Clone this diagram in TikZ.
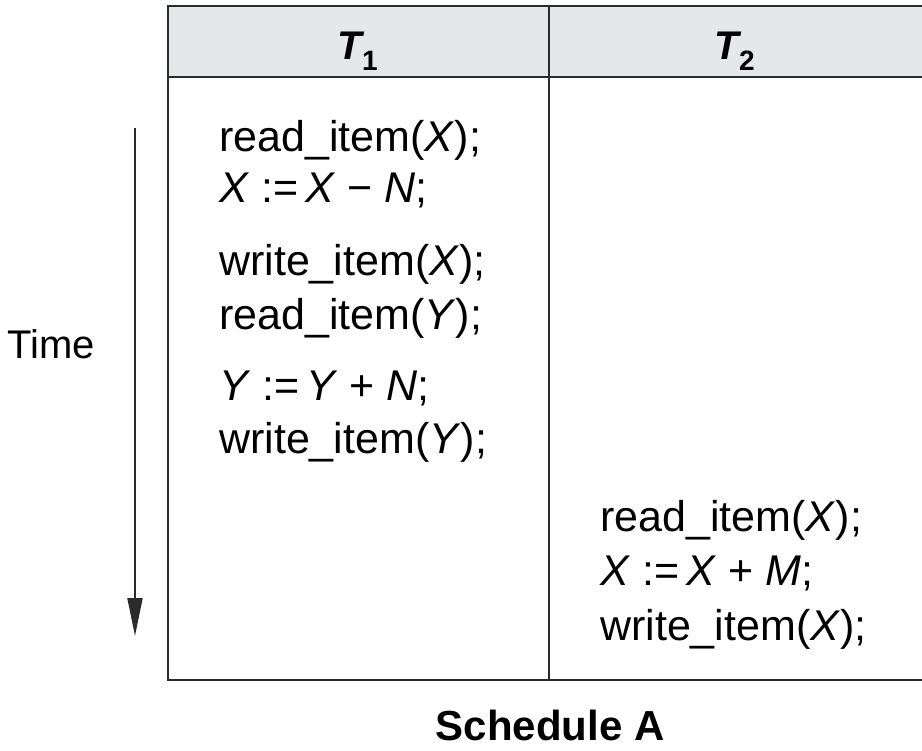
\documentclass[tikz,border=0pt]{standalone}
\usepackage{fontspec}
\setmainfont{Liberation Sans}
\usetikzlibrary{arrows.meta}
\definecolor{hdr}{HTML}{E6E7E8}
\definecolor{ln}{HTML}{2B2B2B}
\tikzset{
  op/.style={anchor=base west, inner sep=0pt, font=\fontsize{43}{50}\selectfont},
  hd/.style={anchor=base, inner sep=0pt, font=\fontsize{40}{46}\selectfont\bfseries\itshape},
  rule/.style={draw=ln, line width=2.2pt}
}
\begin{document}
\begin{tikzpicture}[x=1pt,y=-1pt]
\useasboundingbox (0,0) rectangle (922,751);
% header
\fill[hdr] (168,6) rectangle (930,77);
\draw[rule] (930,6) -- (168,6) -- (168,680) -- (930,680);
\draw[rule] (168,77) -- (930,77);
\draw[rule] (549,6) -- (549,680);
\node[hd] (t1) at (358,60) {T\textsubscript{\upshape 1}};
\node[hd] (t2) at (735,60) {T\textsubscript{\upshape 2}};
% T1 operations
\node[op] (a1) at (219,152) {read\_item(\textit{X});};
\node[op] (a2) at (219,203) {\textit{X} :=\,\textit{X} − \textit{N};};
\node[op] (a3) at (219,276) {write\_item(\textit{X});};
\node[op] (a4) at (219,330) {read\_item(\textit{Y});};
\node[op] (a5) at (219,401) {\textit{Y} :=\,\textit{Y} + \textit{N};};
\node[op] (a6) at (219,454) {write\_item(\textit{Y});};
% T2 operations
\node[op] (b1) at (600,532) {read\_item(\textit{X});};
\node[op] (b2) at (600,585) {\textit{X} :=\,\textit{X} + \textit{M};};
\node[op] (b3) at (600,640) {write\_item(\textit{X});};
% time arrow
\coordinate (ts) at (135,128);
\coordinate (te) at (135,636);
\draw[draw=ln, line width=2pt, -{Triangle[length=38pt,width=15pt]}] (ts) -- (te);
\node[anchor=base, inner sep=0pt, font=\fontsize{40}{46}\selectfont] (time) at (51,359) {Time};
\node[anchor=base, inner sep=0pt, font=\fontsize{42}{48}\selectfont\bfseries] (cap) at (550,740) {Schedule A};
\end{tikzpicture}
\end{document}
